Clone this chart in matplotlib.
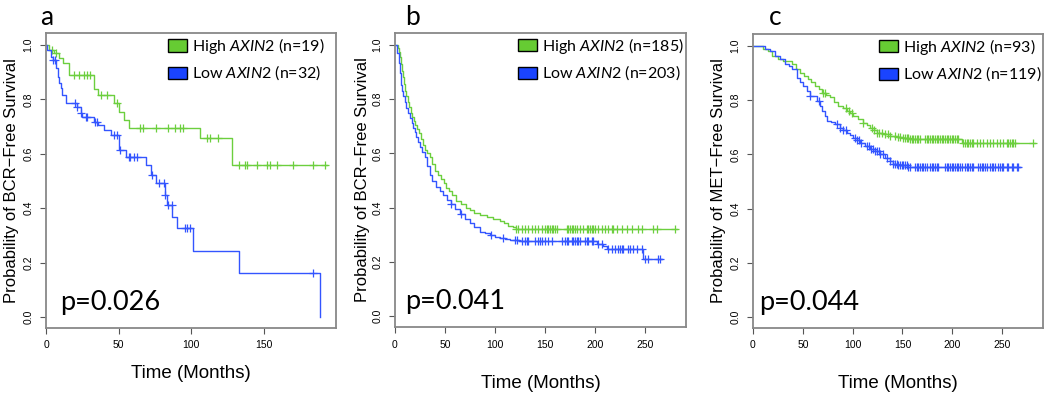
import numpy as np
import matplotlib
matplotlib.use("Agg")
import matplotlib.pyplot as plt
from matplotlib.patches import Patch

plt.rcParams['mathtext.fontset'] = 'custom'
plt.rcParams['mathtext.rm'] = 'Lato'
plt.rcParams['mathtext.it'] = 'Lato:italic'

# ---------------- data ----------------
panel_letters = ["a", "b", "c"]
y_labels = ["Probability of BCR\u2212Free Survival",
            "Probability of BCR\u2212Free Survival",
            "Probability of MET\u2212Free Survival"]
x_label = "Time (Months)"
p_values = ["p=0.026", "p=0.041", "p=0.044"]
hi_labels = ["High $\\mathit{AXIN2}$ (n=19)", "High $\\mathit{AXIN2}$ (n=185)", "High $\\mathit{AXIN2}$ (n=93)"]
lo_labels = ["Low $\\mathit{AXIN2}$ (n=32)", "Low $\\mathit{AXIN2}$ (n=203)", "Low $\\mathit{AXIN2}$ (n=119)"]
x_ticks = [[0, 50, 100, 150], [0, 50, 100, 150, 200, 250], [0, 50, 100, 150, 200, 250]]
y_ticks = [0.0, 0.2, 0.4, 0.6, 0.8, 1.0]

# Panel a
a_hi_t = [0, 2, 5.5, 9, 12, 16, 33, 36, 47, 50, 54, 57, 106, 128]
a_hi_s = [1.0, 0.98, 0.97, 0.952, 0.934, 0.89, 0.84, 0.816, 0.787, 0.754, 0.724, 0.695, 0.658, 0.559]
a_hi_end = 193
a_hi_c = [4, 7, 19, 23, 26, 28, 30, 38, 42, 49, 65, 67, 76, 84, 89, 92, 94, 111, 113, 118,
          133, 137, 138, 145, 152, 154, 159, 170, 184, 192]
a_lo_t = [0, 0.7, 3.5, 4.5, 7, 8, 9, 10, 11, 13.5, 21, 24, 25, 33, 36, 40, 45, 50, 55, 69, 72,
          76, 82, 83.5, 87, 90, 101, 133, 188.5]
a_lo_s = [1.0, 0.98, 0.956, 0.945, 0.915, 0.882, 0.86, 0.842, 0.816, 0.787, 0.772, 0.75, 0.735,
          0.717, 0.706, 0.688, 0.669, 0.614, 0.588, 0.559, 0.522, 0.492, 0.448, 0.412, 0.368,
          0.327, 0.243, 0.162, 0.0]
a_lo_end = 188.5
a_lo_c = [5, 6, 20, 21, 24, 27.5, 28, 34, 35, 47, 49, 51, 57, 58, 60.5, 62.5, 73, 78, 81, 82,
          84, 86.5, 95.5, 97, 99, 184]

# Panel b
b_hi_t = [0, 3, 4, 5, 6, 7, 8, 9, 10, 11, 12.5, 14, 15.5, 17, 18.5, 20, 22, 24, 26, 28, 30, 32,
          34.7, 37, 39.7, 43, 46, 48.5, 51, 54, 57, 61, 66, 71, 75, 79, 85, 92, 98, 105, 109,
          113, 118, 121]
b_hi_s = [1.0, 0.99, 0.975, 0.955, 0.93, 0.905, 0.88, 0.855, 0.83, 0.81, 0.79, 0.77, 0.75, 0.735,
          0.72, 0.705, 0.69, 0.675, 0.655, 0.63, 0.612, 0.6, 0.588, 0.56, 0.535, 0.52, 0.504,
          0.49, 0.474, 0.46, 0.445, 0.426, 0.413, 0.4, 0.39, 0.382, 0.374, 0.365, 0.358, 0.352,
          0.345, 0.333, 0.327, 0.323]
b_hi_end = 282
b_hi_c = [121, 123, 126.7, 130, 133.3, 136.7, 140, 143.3, 146.7, 150, 151.7, 153.3, 155, 156.7,
          158.3, 160, 161.7, 171.7, 173.3, 175, 176.7, 178.3, 180, 181.7, 185, 188.3, 191.7,
          193.3, 195, 196.7, 198.3, 200, 203.3, 206.7, 210, 213.3, 216.7, 218.3, 221.7, 226.7,
          231.7, 236.7, 243.3, 246.7, 258.3, 261.7, 280]
b_lo_t = [0, 2, 3.5, 5, 6, 7, 8, 9.5, 11, 13, 14.7, 16.5, 18, 19.5, 21, 23, 24.7, 27, 29.7, 32,
          34.7, 37, 41, 44.5, 48, 52, 56, 60, 64.7, 70, 74.7, 79, 84.7, 90, 95, 100, 105, 110,
          115, 124, 202, 208, 212, 248]
b_lo_s = [1.0, 0.97, 0.935, 0.895, 0.853, 0.83, 0.81, 0.79, 0.768, 0.748, 0.73, 0.712, 0.695,
          0.678, 0.662, 0.643, 0.625, 0.605, 0.585, 0.555, 0.522, 0.5, 0.478, 0.463, 0.448,
          0.43, 0.412, 0.395, 0.378, 0.36, 0.345, 0.327, 0.312, 0.305, 0.298, 0.292, 0.287,
          0.283, 0.279, 0.276, 0.265, 0.258, 0.246, 0.21]
b_lo_end = 267
b_lo_c = [56, 66, 96, 108, 120, 122, 126.7, 130, 131.7, 133.3, 140, 143.3, 145, 146.7, 150,
          153.3, 156.7, 166.7, 170, 171.7, 173.3, 176.7, 178.3, 180, 181.7, 183.3, 185, 190,
          191.7, 193.3, 196.7, 198.3, 203.3, 206.7, 213.3, 216.7, 220, 223.3, 225, 226.7,
          228.3, 233.3, 235, 238.3, 241.7, 246.7, 250, 253.3, 263.3, 265]

# Panel c
c_hi_t = [0, 10, 15, 19, 25, 30, 39, 43, 47, 51, 55, 58, 62, 66, 69, 73, 77, 81, 85.5, 90, 94,
          97, 100, 105, 110, 114, 117.5, 121, 124, 130, 137.5, 144, 150.6, 157.6, 210]
c_hi_s = [1.0, 0.99, 0.98, 0.963, 0.952, 0.945, 0.934, 0.915, 0.9, 0.89, 0.879, 0.866, 0.853,
          0.84, 0.827, 0.818, 0.81, 0.795, 0.779, 0.77, 0.761, 0.752, 0.743, 0.73, 0.717, 0.708,
          0.699, 0.69, 0.68, 0.676, 0.669, 0.665, 0.662, 0.656, 0.643]
c_hi_end = 283
c_hi_c = [70, 72, 93, 96, 99, 110, 119, 121, 124, 126, 129.2, 132.5, 135.9, 137.5, 142.6, 145.9,
          147.6, 150.9, 152.6, 154.3, 155.9, 157.6, 159.3, 160.9, 162.6, 164.3, 166, 167.6,
          172.7, 174.3, 176, 177.7, 179.3, 181, 182.7, 184.4, 186, 187.7, 189.4, 191, 192.7,
          194.4, 196, 197.7, 199.4, 201, 202.7, 204.4, 206, 211, 212.8, 214.5, 216.1, 217.8,
          219.5, 221.1, 224.5, 227.8, 231.2, 234.5, 237.9, 241.2, 244.6, 247.9, 251.3, 254.6,
          256.3, 258, 259.6, 261.3, 263, 281.4]
c_lo_t = [0, 12, 17, 22, 27, 32, 36, 39, 44, 47, 50, 54, 57, 64, 67, 69, 72, 74, 78, 82, 87,
          90, 94, 97, 100, 104, 107, 112, 117.5, 122, 127.5, 132.5, 137, 140.6, 145, 155.6]
c_lo_s = [1.0, 0.99, 0.98, 0.963, 0.952, 0.934, 0.925, 0.915, 0.882, 0.868, 0.853, 0.835,
          0.816, 0.798, 0.78, 0.761, 0.742, 0.724, 0.718, 0.713, 0.699, 0.69, 0.68, 0.671,
          0.662, 0.652, 0.643, 0.632, 0.621, 0.612, 0.603, 0.588, 0.577, 0.566, 0.56, 0.555]
c_lo_end = 268
c_lo_c = [57, 66, 84, 87, 90, 93, 102, 104, 106, 108, 114, 116, 118, 120, 122, 124, 126,
          127.5, 130.8, 134.2, 137.5, 140.9, 142.6, 144.2, 145.9, 147.6, 149.2, 150.9, 152.6,
          154.3, 155.9, 157.6, 162.6, 164.3, 166, 167.6, 169.3, 171, 172.7, 174.3, 177.7,
          179.3, 181, 182.7, 184.4, 186, 192.7, 194.4, 196, 197.7, 199.4, 201, 202.7, 204.4,
          206, 207.7, 209.4, 212.8, 214.5, 216.1, 217.8, 219.5, 221.1, 226.2, 227.8, 229.5,
          231.2, 232.9, 234.5, 237.9, 239.5, 241.2, 242.9, 246.2, 247.9, 249.6, 251.3, 254.6,
          256.3, 259.6, 261.3, 264.6, 266.3]

panels = [
    (a_hi_t, a_hi_s, a_hi_end, a_hi_c, a_lo_t, a_lo_s, a_lo_end, a_lo_c),
    (b_hi_t, b_hi_s, b_hi_end, b_hi_c, b_lo_t, b_lo_s, b_lo_end, b_lo_c),
    (c_hi_t, c_hi_s, c_hi_end, c_hi_c, c_lo_t, c_lo_s, c_lo_end, c_lo_c),
]

# ---------------- style / layout ----------------
GREEN_LINE = "#6ccf3e"
BLUE_LINE = "#3355ff"
GREEN_BOX = "#66cc33"
BLUE_BOX = "#1a44ff"
W, H = 1050, 400
# axes boxes in pixels: left, right, top, bottom
boxes = [(46, 336, 33, 328), (395, 686, 33, 327), (753, 1043, 34, 328)]
xlims = [(0, 199.5), (0, 291), (0, 291)]
ylim = (-0.04, 1.044)
letter_pos = [(40, 25), (405, 25), (769, 25)]
ylabel_x = [12, 362, 719]
xlabel_y = [373, 383, 383]
legend_left = [0.42, 0.423, 0.434]
ptext_x = [0.048, 0.034, 0.021]

fig = plt.figure(figsize=(W / 100, H / 100), dpi=100)
fig.patch.set_facecolor("white")


def step_value(times, surv, t):
    idx = np.searchsorted(np.asarray(times), t, side="right") - 1
    return np.asarray(surv)[idx]


for i, (ht, hs, hend, hc, lt, ls, lend, lc) in enumerate(panels):
    l, r, t, b = boxes[i]
    ax = fig.add_axes([l / W, 1 - b / H, (r - l) / W, (b - t) / H])
    for times, surv, end, cens, col in [(ht, hs, hend, hc, GREEN_LINE), (lt, ls, lend, lc, BLUE_LINE)]:
        xs = list(times) + [end]
        ys = list(surv) + [surv[-1]]
        ax.plot(xs, ys, drawstyle="steps-post", color=col, lw=1.0)
        cy = [step_value(times, surv, c) for c in cens]
        ax.plot(cens, cy, linestyle="none", marker="+", color=col, ms=6, mew=0.9)
    ax.set_xlim(*xlims[i])
    ax.set_ylim(*ylim)
    ax.set_xticks(x_ticks[i])
    ax.set_yticks(y_ticks)
    ax.set_xticklabels([str(v) for v in x_ticks[i]], family="Liberation Sans", fontsize=7.5)
    ax.set_yticklabels(["%.1f" % v for v in y_ticks], family="Liberation Sans", fontsize=7.5,
                       rotation=90, va="center")
    ax.tick_params(axis="both", length=4, width=0.8, color="#555555", pad=5)
    for sp in ax.spines.values():
        sp.set_color("#888888")
        sp.set_linewidth(1.3)
    # legend
    handles = [Patch(facecolor=GREEN_BOX, edgecolor="black", lw=1.0),
               Patch(facecolor=BLUE_BOX, edgecolor="black", lw=1.0)]
    leg = ax.legend(handles, [hi_labels[i], lo_labels[i]], loc="upper left",
                    bbox_to_anchor=(legend_left[i], 0.99), frameon=False,
                    prop={"family": "Lato", "size": 11.5}, handlelength=1.2,
                    handleheight=0.8, handletextpad=0.3, labelspacing=0.5,
                    borderpad=0, borderaxespad=0)
    # p-value
    ax.text(ptext_x[i], 0.061, p_values[i], transform=ax.transAxes, family="Lato",
            fontsize=19.5, ha="left", va="baseline")
    # labels
    fig.text(ylabel_x[i] / W, 1 - ((t + b) / 2) / H, y_labels[i], rotation=90,
             family="Liberation Sans", fontsize=12, ha="center", va="center")
    fig.text(((l + r) / 2) / W, 1 - xlabel_y[i] / H, x_label, family="Liberation Sans",
             fontsize=13.5, ha="center", va="center")
    fig.text(letter_pos[i][0] / W, 1 - letter_pos[i][1] / H, panel_letters[i], family="Lato",
             fontsize=19, ha="left", va="baseline")

fig.savefig("out.png", dpi=100, facecolor="white")
